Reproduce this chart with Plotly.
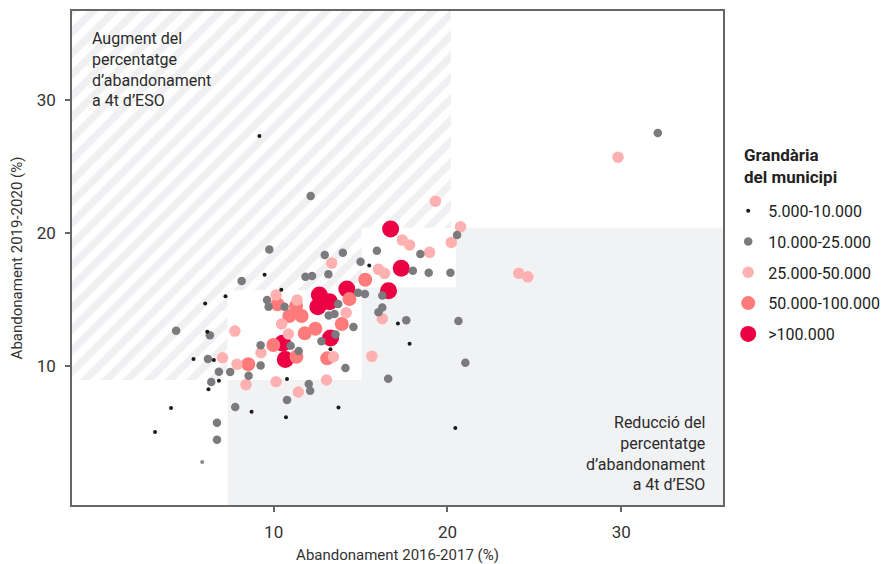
import plotly.graph_objects as go

# Abandonament 4t ESO per municipi: 2016-2017 (x) vs 2019-2020 (y)

black_x = [9.18, 3.18, 4.1, 6.06, 7.23, 6.18, 5.39, 6.56, 6.85, 6.25, 10.77,
           8.73, 10.71, 13.73, 20.45, 9.48, 10.44, 15.5, 17.15, 17.82, 13.27]
black_y = [27.3, 5.04, 6.84, 14.7, 15.24, 12.58, 10.53, 10.45, 8.9, 8.25, 9.02,
           6.56, 6.14, 6.89, 5.34, 16.86, 15.74, 17.57, 13.2, 11.68, 11.26]

grey_x = [12.13, 9.75, 12.94, 13.98, 15.0, 15.94, 18.44, 20.55, 18.01, 18.92,
          20.17, 11.83, 12.21, 13.15, 8.16, 14.86, 15.25, 16.25, 9.62, 16.25,
          16.03, 17.63, 20.63, 21.03, 16.59, 9.71, 10.63, 13.17, 13.5, 13.71,
          14.59, 13.56, 12.75, 11.44, 10.98, 9.25, 9.25, 8.56, 7.5, 6.85,
          6.22, 6.41, 6.33, 14.13, 12.02, 12.1, 10.77, 7.79, 6.74, 4.39,
          6.74, 32.1]
grey_y = [22.78, 18.77, 18.35, 18.52, 17.84, 18.67, 18.42, 19.85, 17.17, 17.02,
          17.02, 16.71, 16.77, 16.9, 16.39, 15.51, 15.41, 15.31, 14.96, 14.41,
          14.04, 13.44, 13.38, 10.25, 9.05, 14.46, 14.46, 13.81, 13.91, 14.66,
          12.93, 12.38, 11.86, 11.13, 11.53, 11.56, 10.05, 9.27, 9.55, 9.57,
          10.53, 8.8, 12.31, 9.85, 8.65, 8.14, 7.44, 6.92, 5.74, 12.65,
          4.46, 27.52]

pink_x = [19.31, 13.34, 17.4, 17.82, 18.97, 20.22, 20.75, 16.03, 16.38, 29.81,
          24.1, 24.62, 10.14, 11.35, 14.17, 10.46, 10.85, 9.27, 7.77, 7.06,
          7.89, 8.41, 10.14, 11.42, 13.04, 13.44, 15.65, 16.25]
pink_y = [22.4, 17.74, 19.47, 19.1, 18.55, 19.3, 20.47, 17.27, 16.97, 25.71,
          16.97, 16.71, 15.34, 14.96, 14.01, 13.16, 12.41, 11.0, 12.63, 10.62,
          10.13, 8.6, 8.82, 8.05, 8.95, 10.7, 10.73, 13.56]

salmon_x = [15.27, 14.36, 10.23, 11.29, 10.9, 11.61, 13.92, 12.4, 11.79, 9.98,
            11.31, 13.08, 8.54]
salmon_y = [16.49, 15.04, 14.64, 14.51, 13.76, 13.76, 13.16, 12.81, 12.46, 11.58,
            10.7, 10.58, 10.13]

crimson_x = [16.73, 17.34, 16.61, 14.21, 12.63, 13.21, 12.54, 13.27, 10.52, 10.67]
crimson_y = [20.3, 17.35, 15.66, 15.79, 15.34, 14.83, 14.46, 12.11, 11.71, 10.5]

other_x = [5.89]
other_y = [2.78]

X_RANGE = [-1.6, 35.85]
Y_RANGE = [-0.45, 36.7]

fig = go.Figure()

# zona ratllada (augment)
hx = [X_RANGE[0], 20.2, 20.2, 15.06, 15.06, 7.35, 7.35, X_RANGE[0], X_RANGE[0]]
hy = [Y_RANGE[1], Y_RANGE[1], 20.4, 20.4, 15.7, 15.7, 8.95, 8.95, Y_RANGE[1]]
fig.add_trace(go.Scatter(
    x=hx, y=hy, mode="lines", line=dict(width=0), fill="toself",
    fillcolor="white",
    fillpattern=dict(shape="/", fgcolor="#e1e2e5", bgcolor="white",
                     size=15, solidity=0.5),
    hoverinfo="skip", showlegend=False))

# zona grisa (reducció)
gx = [7.35, X_RANGE[1], X_RANGE[1], 20.5, 20.5, 15.06, 15.06, 7.35, 7.35]
gy = [Y_RANGE[0], Y_RANGE[0], 20.4, 20.4, 15.9, 15.9, 8.95, 8.95, Y_RANGE[0]]
fig.add_trace(go.Scatter(
    x=gx, y=gy, mode="lines", line=dict(width=0), fill="toself",
    fillcolor="#f1f2f4", hoverinfo="skip", showlegend=False))

# ordre de dibuix: grans a sota, petits a sobre
groups = [
    ("&gt;100.000", crimson_x, crimson_y, "#ec0044", 17, 5),
    ("50.000-100.000", salmon_x, salmon_y, "#ff7b7b", 14, 4),
    ("25.000-50.000", pink_x, pink_y, "#ffb0b0", 11.5, 3),
    ("10.000-25.000", grey_x, grey_y, "#7b7b7e", 8.5, 2),
    ("5.000-10.000", black_x, black_y, "#1a1a1a", 4, 1),
]

fig.add_trace(go.Scatter(x=other_x, y=other_y, mode="markers",
                         marker=dict(size=4, color="#8a8a8e"),
                         showlegend=False))

for name, xs, ys, col, sz, rank in groups:
    fig.add_trace(go.Scatter(
        x=xs, y=ys, mode="markers", name=name, legendgroup=name,
        legendrank=rank,
        marker=dict(size=sz, color=col, line=dict(width=0))))

fig.add_annotation(
    text="Augment del<br>percentatge<br>d’abandonament<br>a 4t d’ESO",
    xref="paper", yref="paper", x=0.028, y=0.967, xanchor="left", yanchor="top",
    align="left", showarrow=False, font=dict(size=16, color="#2b2b2b"))
fig.add_annotation(
    text="Reducció del<br>percentatge<br>d’abandonament<br>a 4t d’ESO",
    xref="paper", yref="paper", x=0.975, y=0.018, xanchor="right", yanchor="bottom",
    align="right", showarrow=False, font=dict(size=16, color="#2b2b2b"))

# títol de la llegenda
fig.add_annotation(
    text="<b>Grandària<br>del municipi</b>",
    xref="paper", yref="paper", x=1.029, y=0.733, xanchor="left", yanchor="top",
    align="left", showarrow=False, font=dict(size=17, color="#222"))

axis_common = dict(showgrid=False, zeroline=False, showline=True, mirror=True,
                   linecolor="#666666", linewidth=1.5, ticks="outside",
                   ticklen=5, tickcolor="#666666", tickwidth=1.5,
                   tickvals=[10, 20, 30], automargin=False,
                   tickfont=dict(size=17, color="#333"))

fig.update_xaxes(range=X_RANGE, ticklabelstandoff=6,
                 title=dict(text="Abandonament 2016-2017 (%)",
                            font=dict(size=15, color="#333"), standoff=22),
                 **axis_common)
fig.update_yaxes(range=Y_RANGE, ticklabelstandoff=6,
                 title=dict(text="Abandonament 2019-2020 (%)",
                            font=dict(size=15, color="#333"), standoff=10),
                 **axis_common)

fig.update_layout(
    width=890, height=564,
    margin=dict(l=72, r=167, t=11, b=59, autoexpand=False),
    plot_bgcolor="white", paper_bgcolor="white",
    font=dict(family="Roboto, sans-serif", color="#222"),
    legend=dict(
        x=1.008, y=0.630, xanchor="left", yanchor="top",
        traceorder="grouped", tracegroupgap=7,
        itemsizing="trace", font=dict(size=16, color="#222"),
        bgcolor="rgba(0,0,0,0)"),
)

# treure el marge per defecte del body
fig.write_html("out.html", config={"displayModeBar": False},
               post_script="document.body.style.margin='0';"
               "document.body.style.overflow='hidden';")
